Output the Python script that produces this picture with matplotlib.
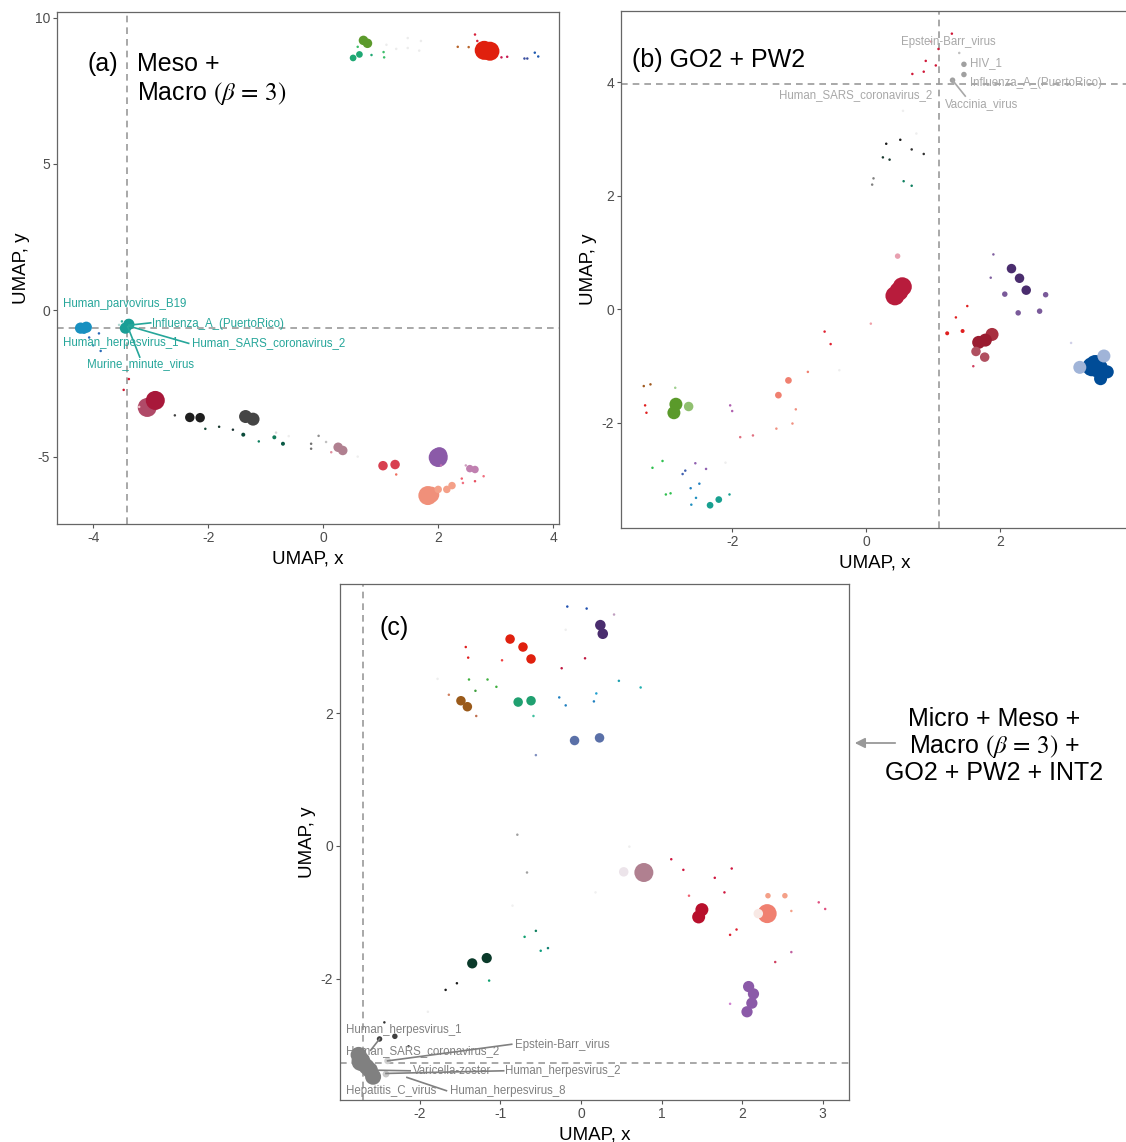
import numpy as np
import matplotlib
matplotlib.use("Agg")
import matplotlib.pyplot as plt
from matplotlib.patches import FancyArrowPatch

plt.rcParams["font.family"] = ["Liberation Sans", "DejaVu Sans"]
plt.rcParams["mathtext.fontset"] = "stix"
plt.rcParams["axes.unicode_minus"] = False

# ---- panel (a): Meso + Macro ----
a_x = [0.70, 0.77, 0.52, 0.63, 0.84, 1.06, 1.05, 0.60,
       2.80, 2.90, 2.85, 2.64, 2.68, 3.10, 3.20, 2.34, 2.53,
       3.50, 3.55, 3.68, 3.74, 1.10, 1.27, 1.47, 1.47, 1.67, 1.70,
       -4.22, -4.12, -4.16, -4.07, -3.90, -3.87, -4.00,
       -3.38, -3.44, -3.50, -3.55, -3.38, -3.47,
       -2.92, -3.06, -3.20, -2.32, -2.14, -1.35, -1.22,
       -2.58, -2.05, -1.81, -1.57, -1.39, -1.12, -0.85, -0.70, -0.82, -0.60,
       -0.21, -0.21, -0.08, 0.05, 0.26, 0.34, 0.14, 0.60,
       1.04, 1.25, 1.27, 2.00, 2.02, 2.05, 2.55, 2.64, 2.48,
       1.82, 1.88, 2.00, 2.15, 2.24, 2.41, 2.43, 2.64, 2.79]
a_y = [9.22, 9.12, 8.62, 8.74, 8.72, 8.64, 8.82, 9.00,
       8.88, 8.85, 8.80, 9.42, 9.20, 8.64, 8.66, 9.00, 8.99,
       8.60, 8.60, 8.80, 8.67, 9.07, 8.93, 8.96, 9.30, 8.87, 9.20,
       -0.61, -0.58, -0.68, -0.93, -0.79, -1.39, -1.20,
       -0.48, -0.61, -0.38, -0.50, -2.35, -2.72,
       -3.08, -3.32, -3.30, -3.66, -3.67, -3.63, -3.72,
       -3.59, -4.05, -3.98, -4.08, -4.25, -4.48, -4.34, -4.56, -4.18, -4.30,
       -4.56, -4.73, -4.29, -4.50, -4.68, -4.79, -4.85, -5.00,
       -5.31, -5.27, -5.61, -5.03, -4.95, -5.30, -5.41, -5.44, -5.30,
       -6.33, -6.30, -6.12, -6.12, -5.99, -5.75, -5.90, -5.84, -5.67]
a_w = [3, 3, 2.3, 2.3, 1, 1, 1, 1,
       5, 5, 4, 1, 1, 1, 1, 1, 1,
       1, 1, 1, 1, 1, 1, 1, 1, 1, 1,
       3.5, 3.5, 2.5, 1, 1, 1, 1,
       3.5, 3.5, 1, 1, 1, 1,
       5, 5, 1, 3, 3, 4, 4,
       1, 1, 1, 1, 1.5, 1, 1.5, 1.5, 1, 1,
       1, 1, 1, 1, 3, 3, 1, 1,
       3, 3, 1, 5, 4.5, 1, 2.5, 2.5, 1,
       5, 4.5, 2.5, 2.5, 2.5, 1, 1, 1, 1]
a_c = ["#5c9a2c", "#5c9a2c", "#1fa874", "#1fa874", "#1fa874", "#3cbf6a", "#3cbf6a", "#3cbf6a",
       "#e0200e", "#e0200e", "#e0200e", "#d8203a", "#d8203a", "#c81a50", "#c81a50", "#b8642a", "#b8642a",
       "#3a4ea0", "#3a4ea0", "#1f5ab0", "#1f5ab0", "#ececec", "#ececec", "#ececec", "#ececec", "#ececec", "#ececec",
       "#1890c0", "#1890c0", "#1890c0", "#2a6ab8", "#2a6ab8", "#2a6ab8", "#4a90c0",
       "#1a9e96", "#1a9e96", "#30b0a0", "#b0d8d0", "#d01830", "#d01830",
       "#a8183a", "#b04a68", "#f0c0c8", "#1e1e1e", "#1e1e1e", "#454545", "#454545",
       "#444444", "#1a4a3a", "#1a3a30", "#1a3030", "#0a4a3a", "#108060", "#107a58", "#0a5a45", "#d8d8d8", "#eeeeee",
       "#707070", "#707070", "#909090", "#c0c0c0", "#b08090", "#b08090", "#e090a0", "#eeeeee",
       "#d84050", "#d84050", "#f07060", "#8b5aa8", "#8b5aa8", "#c070b0", "#c080b0", "#c080b0", "#d0a0c0",
       "#f0907a", "#f0907a", "#f4a088", "#f4a088", "#f4a088", "#f06070", "#f07080", "#e85060", "#f07080"]
a_labels = ["Human_parvovirus_B19", "Influenza_A_(PuertoRico)", "Human_herpesvirus_1",
            "Human_SARS_coronavirus_2", "Murine_minute_virus"]
a_lab_x = [-4.52, -2.98, -4.52, -2.29, -4.10]
a_lab_y = [0.20, -0.48, -1.13, -1.13, -1.84]
a_cut = (-3.42, -0.60)

# ---- panel (b): GO2 + PW2 ----
b_x = [0.69, 0.86, 0.89, 1.04, 1.28, 1.08, 0.97,
       1.46, 1.46, 1.29, 1.39, 0.55, 0.75,
       0.30, 0.51, 0.68, 0.86, 0.25, 0.35, 0.56, 0.68, 0.11, 0.09,
       0.47, 0.54, 0.43, 0.49, 0.07, -0.62, -0.53, -0.40,
       -1.16, -1.31, -0.87, -1.05, -1.10, -1.34, -1.69, -1.88, -2.03, -2.00,
       -2.84, -2.87, -2.65, -2.85, -3.32, -3.22, -3.30, -3.28,
       -3.04, -3.19, -2.55, -2.39, -2.70, -2.74, -2.62, -2.49,
       -2.99, -2.92, -2.54, -2.61, -2.33, -2.20, -2.04, -2.10,
       2.17, 2.29, 2.39, 2.07, 2.27, 2.59, 2.68, 1.90, 1.86,
       1.51, 1.34, 1.21, 1.44, 1.68, 1.78, 1.88, 1.64, 1.77, 1.60, 3.06,
       3.19, 3.55, 3.37, 3.47, 3.60, 3.50, 3.42]
b_y = [4.15, 4.19, 4.38, 4.30, 4.86, 4.59, 4.72,
       4.32, 4.14, 4.04, 4.52, 3.50, 3.10,
       2.92, 2.99, 2.82, 2.74, 2.68, 2.64, 2.26, 2.18, 2.31, 2.20,
       0.94, 0.40, 0.24, 0.32, -0.25, -0.39, -0.61, -1.07,
       -1.25, -1.51, -1.10, -1.76, -2.01, -2.10, -2.22, -2.25, -1.69, -1.79,
       -1.67, -1.82, -1.71, -1.38, -1.35, -1.32, -1.69, -1.82,
       -2.67, -2.79, -2.71, -2.81, -2.84, -2.90, -3.15, -3.07,
       -3.26, -3.24, -3.32, -3.44, -3.45, -3.35, -3.26, -2.70,
       0.72, 0.55, 0.34, 0.27, -0.06, -0.03, 0.26, 0.97, 0.56,
       0.06, -0.14, -0.42, -0.38, -0.58, -0.54, -0.44, -0.74, -0.84, -1.00, -0.59,
       -1.02, -0.82, -1.01, -1.04, -1.10, -1.22, -0.97]
b_w = [1, 1, 1, 1, 1, 1, 1,
       2, 2, 2, 1, 1, 1,
       1, 1, 1, 1, 1, 1, 1, 1, 1, 1,
       2, 5, 5, 5, 1, 1, 1, 1,
       2.3, 2.3, 1, 1, 1, 1, 1, 1, 1, 1,
       4, 4, 3, 1, 1, 1, 1, 1,
       1, 1, 1, 1, 1, 1, 1, 1,
       1, 1, 1, 1, 2.3, 2.3, 1, 1,
       3, 3, 3, 2, 2, 2, 2, 1, 1,
       1, 1, 1.5, 1.5, 4, 4, 4, 3, 3, 1, 1,
       4, 4, 5, 5, 4, 4, 5]
b_c = ["#d01838"] * 6 + ["#e890a0",
       "#a0a0a0", "#a0a0a0", "#a0a0a0", "#c0c0c0", "#eeeeee", "#eeeeee",
       "#1a1a1a", "#1a1a1a", "#303030", "#303030", "#1a3a30", "#1a3a30", "#108060", "#108060", "#808080", "#808080",
       "#e8a0b0", "#b81c3c", "#b81c3c", "#b81c3c", "#f0a0a8", "#e02030", "#e02030", "#eeeeee",
       "#f08070", "#f08070", "#f08070", "#f09080", "#f09080", "#f09080", "#e07080", "#e07080", "#b060b0", "#b060b0",
       "#5a9a2a", "#5a9a2a", "#90c070", "#a0d090", "#a05a20", "#a05a20", "#e02020", "#e02020",
       "#30c050", "#30c050", "#9060b0", "#9060b0", "#4060b0", "#4060b0", "#2080c0", "#2080c0",
       "#30c050", "#30c050", "#2090c0", "#2090c0", "#18a090", "#18a090", "#18a090", "#eeeeee",
       "#4a2d6e", "#4a2d6e", "#4a2d6e", "#7a5a9a", "#7a5a9a", "#7a5a9a", "#7a5a9a", "#8060a0", "#8060a0",
       "#e02020", "#e02020", "#e02020", "#e02020", "#9a1c30", "#9a1c30", "#a83040", "#b05060", "#b05060", "#d04060", "#d0d0e8",
       "#a0b4d8", "#a0b4d8", "#004c97", "#004c97", "#004c97", "#004c97", "#004c97"]
b_labels = ["Epstein-Barr_virus", "HIV_1", "Influenza_A_(PuertoRico)",
            "Human_SARS_coronavirus_2", "Vaccinia_virus"]
b_lab_x = [0.52, 1.55, 1.55, 0.99, 1.17]
b_lab_y = [4.71, 4.35, 3.99, 3.77, 3.62]
b_cut = (1.09, 3.97)

# ---- panel (c): Micro + Meso + Macro + GO2 + PW2 + INT2 ----
c_x = [-0.17, 0.07, 0.41, 0.24, 0.27, -0.88, -0.72, -0.62,
       -1.43, -1.40, -0.98, -0.24, 0.05, -0.19, -1.78,
       -1.39, -1.16, -1.05, -1.31, 0.47, 0.74,
       -1.49, -1.41, -1.64, -1.30, -0.78, -0.62, -0.59,
       -0.27, -0.19, 0.19, 0.16, -0.08, 0.23, -0.56, -0.79, 0.60,
       0.53, 0.78, 1.12, 1.27, 1.66, 1.78, 1.87, 1.34,
       1.50, 1.46, 2.20, 2.31, 2.32, 2.53, 2.61, 2.95, 3.03,
       1.93, 1.85, 2.61, 2.41, 2.08, 2.14, 2.12, 2.06, 1.85,
       -1.35, -1.17, -0.70, -0.56, -0.50, -0.41, -1.14, -1.68, -1.54,
       -0.67, -0.85, -1.90, 0.18,
       -2.76, -2.73, -2.66, -2.62, -2.58, -2.50, -2.31, -2.44, -2.14, -2.40, -2.42]
c_y = [3.61, 3.58, 3.49, 3.33, 3.20, 3.12, 3.00, 2.82,
       3.00, 2.84, 2.80, 2.68, 2.83, 3.26, 2.52,
       2.51, 2.51, 2.40, 2.34, 2.49, 2.39,
       2.19, 2.10, 2.28, 1.96, 2.17, 2.19, 1.96,
       2.24, 2.12, 2.30, 2.18, 1.59, 1.63, 1.37, 0.17, -0.01,
       -0.39, -0.40, -0.20, -0.36, -0.48, -0.70, -0.34, -0.75,
       -0.96, -1.07, -1.02, -1.02, -0.75, -0.75, -0.98, -0.85, -0.95,
       -1.26, -1.34, -1.60, -1.75, -2.12, -2.23, -2.37, -2.50, -2.38,
       -1.77, -1.69, -1.37, -1.28, -1.58, -1.54, -2.03, -2.17, -2.07,
       -0.40, -0.90, -2.50, -0.70,
       -3.15, -3.25, -3.33, -3.38, -3.48, -2.91, -2.87, -2.66, -3.02, -3.24, -3.44]
c_w = [1, 1, 1, 3.3, 3.3, 3, 3, 3,
       1, 1, 1, 1, 1, 1, 1,
       1, 1, 1, 1, 1, 1,
       3, 3, 1, 1, 3, 3, 1,
       1, 1, 1, 1, 3, 3, 1, 1, 1,
       3, 5.3, 1, 1, 1, 1, 1, 1,
       4, 4, 3, 5.3, 2, 2, 1, 1, 1,
       1, 1, 1, 1, 3.5, 3.5, 3.5, 3.5, 1,
       3.2, 3.2, 1, 1, 1, 1, 1, 1, 1,
       1, 1, 1, 1,
       4.5, 5, 4.5, 4.5, 4.5, 2, 2, 1, 1, 2.3, 2.3]
c_c = ["#2050b0", "#2050b0", "#c0a0c0", "#4a2d6e", "#4a2d6e", "#e0200e", "#e0200e", "#e0200e",
       "#e02020", "#e02020", "#f04040", "#c01840", "#c01840", "#eeeeee", "#eeeeee",
       "#40b040", "#40b040", "#40b040", "#40a040", "#20a0b0", "#20b0b0",
       "#9a5a1a", "#9a5a1a", "#d08060", "#c07050", "#20a070", "#20a070", "#40c0a0",
       "#2080c0", "#2080c0", "#20a0d0", "#2080c0", "#5a70a8", "#5a70a8", "#8090c0", "#a0a0a0", "#eeeeee",
       "#ece4ea", "#b08090", "#d01840", "#d01840", "#d01840", "#d01840", "#d01840", "#f06070",
       "#b8102c", "#b8102c", "#f8e8e4", "#f08070", "#f4a088", "#f4a088", "#f4a088", "#e05080", "#e05080",
       "#e02030", "#e02030", "#c060a0", "#d04060", "#8b5aa8", "#8b5aa8", "#8b5aa8", "#8b5aa8", "#d080d0",
       "#0a3a2a", "#0a3a2a", "#10a070", "#108060", "#10a080", "#108070", "#10a070", "#1a1a1a", "#1a1a1a",
       "#a0a0a0", "#f0f0f0", "#eeeeee", "#f0f0f0",
       "#808080", "#808080", "#808080", "#808080", "#808080", "#404040", "#404040", "#303030", "#404040", "#d0d0d0", "#c8c8c8"]
c_labels = ["Human_herpesvirus_1", "Human_SARS_coronavirus_2", "Epstein-Barr_virus",
            "Varicella-zoster", "Human_herpesvirus_2", "Hepatitis_C_virus", "Human_herpesvirus_8"]
c_lab_x = [-2.92, -2.91, -0.82, -2.08, -0.94, -2.92, -1.63]
c_lab_y = [-2.78, -3.09, -3.00, -3.39, -3.39, -3.69, -3.69]
c_cut = (-2.70, -3.27)


def msize(w):
    # weight -> marker area (pt^2)
    px = np.interp(w, [1, 2, 3, 4, 5], [2.5, 5.5, 9.5, 13, 19])
    return (np.asarray(px) / 1.389) ** 2


def panel(ax, xs, ys, ws, cs, cut, xlim, ylim, xticks, yticks):
    order = np.argsort(np.asarray(ws), kind="stable")[::-1]
    xs, ys, ws = np.asarray(xs), np.asarray(ys), np.asarray(ws)
    ax.axvline(cut[0], color="#9a9a9a", lw=1.2, ls=(0, (4, 3)), zorder=1)
    ax.axhline(cut[1], color="#9a9a9a", lw=1.2, ls=(0, (4, 3)), zorder=1)
    ax.scatter(xs[order], ys[order], s=msize(ws[order]), c=[cs[i] for i in order],
               linewidths=0, zorder=2)
    ax.set_xlim(xlim)
    ax.set_ylim(ylim)
    ax.set_xticks(xticks)
    ax.set_yticks(yticks)
    ax.tick_params(colors="#555555", labelcolor="#4d4d4d", labelsize=10, length=3, width=0.8, pad=2)
    for s in ax.spines.values():
        s.set_color("#666666")
        s.set_linewidth(0.9)
    ax.set_xlabel("UMAP, x", fontsize=13.5, labelpad=4)
    ax.set_ylabel("UMAP, y", fontsize=13.5, labelpad=3)


fig = plt.figure(figsize=(11.26, 11.42), dpi=100)
ax_a = fig.add_axes([0.0506, 0.5412, 0.4458, 0.4483])
ax_b = fig.add_axes([0.5515, 0.5377, 0.4503, 0.4527])
ax_c = fig.add_axes([0.3020, 0.0368, 0.4516, 0.4518])

panel(ax_a, a_x, a_y, a_w, a_c, a_cut, (-4.63, 4.10), (-7.30, 10.19), [-4, -2, 0, 2, 4], [-5, 0, 5, 10])
panel(ax_b, b_x, b_y, b_w, b_c, b_cut, (-3.66, 3.91), (-3.85, 5.26), [-2, 0, 2], [-2, 0, 2, 4])
panel(ax_c, c_x, c_y, c_w, c_c, c_cut, (-2.99, 3.32), (-3.83, 3.95), [-2, -1, 0, 1, 2, 3], [-2, 0, 2])

# panel titles
ax_a.text(-4.10, 8.42, "(a)", fontsize=18, va="center")
ax_a.text(-3.23, 8.42, "Meso +", fontsize=18, va="center")
ax_a.text(-3.23, 7.42, r"Macro $(\beta\,=\,3)$", fontsize=18, va="center")
ax_b.text(-3.50, 4.40, "(b) GO2 + PW2", fontsize=18, va="center")
ax_c.text(-2.50, 3.29, "(c)", fontsize=18, va="center")

# repel-style labels
teal = "#26a69a"
for t, x, y in zip(a_labels, a_lab_x, a_lab_y):
    ax_a.text(x, y, t, fontsize=8.3, color=teal, va="center", zorder=4)
for x0, y0, x1, y1 in [(-3.38, -0.51, -3.00, -0.43), (-3.38, -0.54, -2.34, -1.13), (-3.40, -0.56, -3.19, -1.60)]:
    ax_a.plot([x0, x1], [y0, y1], color=teal, lw=1.2, zorder=3)

lgray = "#a8a8a8"
for t, x, y, ha in zip(b_labels, b_lab_x, b_lab_y, ["left", "left", "left", "right", "left"]):
    ax_b.text(x, y, t, fontsize=8.3, color=lgray, va="center", ha=ha, zorder=4)
ax_b.plot([1.29, 1.48], [4.04, 3.76], color=lgray, lw=1.2, zorder=3)

dgray = "#808080"
for t, x, y in zip(c_labels, c_lab_x, c_lab_y):
    ax_c.text(x, y, t, fontsize=8.3, color=dgray, va="center", zorder=4)
for x0, y0, x1, y1 in [(-2.50, -2.91, -2.61, -3.08), (-2.40, -3.24, -0.86, -2.99),
                       (-2.59, -3.38, -2.12, -3.39), (-2.42, -3.43, -0.96, -3.39),
                       (-2.16, -3.49, -1.67, -3.69)]:
    ax_c.plot([x0, x1], [y0, y1], color=dgray, lw=1.2, zorder=3)

# right-hand annotation for panel (c)
fig.text(994 / 1126, 1 - 746 / 1142, "Micro + Meso +\n" + r"Macro $(\beta\,=\,3)$ +" + "\nGO2 + PW2 + INT2",
         fontsize=18, ha="center", va="center", linespacing=1.1)
fig.add_artist(FancyArrowPatch((898 / 1126, 1 - 743 / 1142), (852 / 1126, 1 - 743 / 1142),
                               transform=fig.transFigure, arrowstyle="-|>,head_length=6,head_width=3",
                               color="#999999", lw=1.3))

fig.savefig("out.png", dpi=100)
